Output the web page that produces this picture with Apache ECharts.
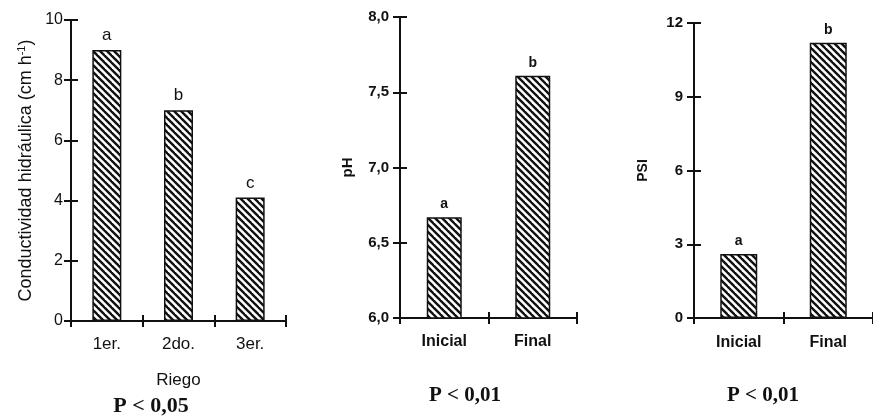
<!DOCTYPE html>
<html><head><meta charset="utf-8">
<script src="https://cdn.jsdelivr.net/npm/echarts@6/dist/echarts.min.js"></script>
<style>html,body{margin:0;padding:0;background:#fff}#c{width:873px;height:418px}</style>
</head><body><div id="c"></div>
<script>
// ---- data ----
const riegoCats = ['1er.', '2do.', '3er.'];
const conductividad = [9.0, 7.0, 4.1];
const conductLetters = ['a', 'b', 'c'];
const phCats = ['Inicial', 'Final'];
const phValues = [6.67, 7.61];
const phLetters = ['a', 'b'];
const psiCats = ['Inicial', 'Final'];
const psiValues = [2.6, 11.2];
const psiLetters = ['a', 'b'];
const yTicks1 = [0, 2, 4, 6, 8, 10];
const yTicks2 = ['6,0', '6,5', '7,0', '7,5', '8,0'];
const yTicks3 = [0, 3, 6, 9, 12];
const pTexts = ['P < 0,05', 'P < 0,01', 'P < 0,01'];

// hatch pattern
function hatch() {
  const s = 7, c = document.createElement('canvas');
  c.width = s; c.height = s;
  const g = c.getContext('2d');
  g.fillStyle = '#fff'; g.fillRect(0, 0, s, s);
  g.strokeStyle = '#111'; g.lineWidth = 2.4;
  for (let k = -1; k <= 1; k++) {
    g.beginPath(); g.moveTo(-2, -2 + k * s); g.lineTo(s + 2, s + 2 + k * s); g.stroke();
  }
  return c;
}
const pat = { image: hatch(), repeat: 'repeat' };

const black = '#111';
const sansR = 'Arial, "Liberation Sans", sans-serif';

function xAx(idx, cats, fontWeight, fontSize, margin, name) {
  return [{
    type: 'category', gridIndex: idx, data: cats, boundaryGap: true, position: 'bottom',
    axisLine: { show: true, onZero: false, lineStyle: { color: black, width: 2 } },
    axisTick: { show: true, length: 6, lineStyle: { color: black, width: 2 } },
    axisLabel: { color: black, fontFamily: sansR, fontWeight: fontWeight, fontSize: fontSize, margin: margin },
    name: name || '', nameLocation: 'middle', nameGap: 51,
    nameTextStyle: { color: black, fontFamily: sansR, fontSize: 17 }
  }, {
    type: 'category', gridIndex: idx, data: cats, boundaryGap: true, position: 'bottom', offset: 0,
    axisLine: { show: false, onZero: false },
    axisTick: { show: true, inside: true, length: 6, lineStyle: { color: black, width: 2 } },
    axisLabel: { show: false }
  }];
}
function yAx(idx, min, max, interval, fmt, fontWeight, fontSize, margin, name, nameGap, nameStyle) {
  return [{
    type: 'value', gridIndex: idx, min: min, max: max, interval: interval, position: 'left',
    splitLine: { show: false },
    axisLine: { show: true, onZero: false, lineStyle: { color: black, width: 2 } },
    axisTick: { show: true, length: 7, lineStyle: { color: black, width: 2 } },
    axisLabel: {
      color: black, fontFamily: sansR, fontWeight: fontWeight, fontSize: fontSize, margin: margin,
      formatter: fmt
    },
    name: name, nameLocation: 'middle', nameGap: nameGap, nameRotate: 90,
    nameTextStyle: nameStyle
  }, {
    type: 'value', gridIndex: idx, min: min, max: max, interval: interval, position: 'left', offset: 0,
    splitLine: { show: false },
    axisLine: { show: false, onZero: false },
    axisTick: { show: true, inside: true, length: 7, lineStyle: { color: black, width: 2 } },
    axisLabel: { show: false }
  }];
}

const xAxes = [].concat(
  xAx(0, riegoCats, 'normal', 17, 15, 'Riego'),
  xAx(1, phCats, 'bold', 16, 16),
  xAx(2, psiCats, 'bold', 16, 17)
);
const yAxes = [].concat(
  yAx(0, 0, 10, 2, v => String(v), 'normal', 16, 8,
    '{n|Conductividad hidráulica (cm h}{s|-1}{n|)}', 35,
    { color: black, rich: { n: { fontFamily: sansR, fontSize: 18, color: black }, s: { fontFamily: sansR, fontSize: 11, color: black, verticalAlign: 'top', padding: [0, 0, 9, 0] } } }),
  yAx(1, 6, 8, 0.5, v => yTicks2[Math.round((v - 6) / 0.5)], 'bold', 15, 11,
    'pH', 45, { color: black, fontFamily: sansR, fontWeight: 'bold', fontSize: 15 }),
  yAx(2, 0, 12, 3, v => String(yTicks3[Math.round(v / 3)]), 'bold', 15, 11,
    'PSI', 44, { color: black, fontFamily: sansR, fontWeight: 'bold', fontSize: 14 })
);

function barSeries(idx, vals, letters, width, lblFont, lblWeight) {
  return {
    type: 'bar', xAxisIndex: idx * 2, yAxisIndex: idx * 2, data: vals, barWidth: width,
    itemStyle: { color: pat, borderColor: black, borderWidth: 1.5 },
    label: {
      show: true, position: 'top', distance: 6, color: black,
      fontFamily: sansR, fontSize: lblFont, fontWeight: lblWeight,
      formatter: p => letters[p.dataIndex]
    },
    animation: false
  };
}

const chart = echarts.init(document.getElementById('c'), null, { renderer: 'canvas' });
chart.setOption({
  backgroundColor: '#fff',
  animation: false,
  grid: [
    { left: 71, top: 20, width: 215, height: 301 },
    { left: 400, top: 17, width: 177, height: 301 },
    { left: 694, top: 23, width: 190, height: 295 }
  ],
  xAxis: xAxes,
  yAxis: yAxes,
  series: [
    barSeries(0, conductividad, conductLetters, 29, 17, 'normal'),
    barSeries(1, phValues, phLetters, 35, 14, 'bold'),
    barSeries(2, psiValues, psiLetters, 37, 14, 'bold')
  ],
  graphic: [
    { type: 'text', x: 151, y: 406, style: { text: pTexts[0], fill: black, font: 'bold 22px "Liberation Serif", "Times New Roman", serif', textAlign: 'center', textVerticalAlign: 'middle' } },
    { type: 'text', x: 465, y: 396, style: { text: pTexts[1], fill: black, font: 'bold 21px "Liberation Serif", "Times New Roman", serif', textAlign: 'center', textVerticalAlign: 'middle' } },
    { type: 'text', x: 763, y: 396, style: { text: pTexts[2], fill: black, font: 'bold 21px "Liberation Serif", "Times New Roman", serif', textAlign: 'center', textVerticalAlign: 'middle' } }
  ]
});
</script>
</body></html>
